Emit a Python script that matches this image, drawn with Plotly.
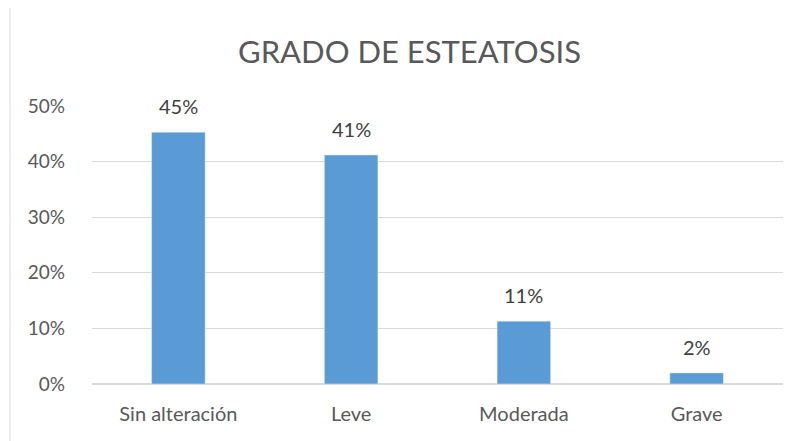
import plotly.graph_objects as go

categorias = ["Sin alteración", "Leve", "Moderada", "Grave"]
porcentajes = [0.453, 0.412, 0.113, 0.020]
etiquetas = ["45%", "41%", "11%", "2%"]

fig = go.Figure()

# Barras
fig.add_trace(go.Bar(
    x=categorias, y=porcentajes,
    marker=dict(color="#5B9BD5"),
    hoverinfo="x+y",
))

# Etiquetas de datos sobre cada barra
for cat, val, txt in zip(categorias, porcentajes, etiquetas):
    fig.add_annotation(
        x=cat, y=val, text=txt, showarrow=False,
        yanchor="middle", yshift=26,
        font=dict(size=20, color="#404040"),
    )

# Marco del grafico
fig.add_shape(
    type="rect", xref="paper", yref="paper",
    x0=-0.1187, x1=1.0203, y0=-0.4, y1=1.356,
    line=dict(color="#d9d9d9", width=1),
)

# la pagina tiene 8px de margen en body, se compensa en los margenes
fig.update_layout(
    title=dict(text="GRADO DE ESTEATOSIS", x=0.5, xanchor="center",
               y=0.900, yanchor="middle",
               font=dict(size=31, color="#595959", family="Lato")),
    width=803, height=441,
    margin=dict(l=84, r=28, t=98, b=65),
    bargap=0.69,
    showlegend=False,
    plot_bgcolor="white", paper_bgcolor="white",
    font=dict(family="Lato", size=19, color="#595959"),
    xaxis=dict(showline=False, ticks="", ticklabelstandoff=16,
               automargin=False, tickfont=dict(size=20)),
    yaxis=dict(range=[0, 0.5], dtick=0.1, tickformat=".0%",
               gridcolor="#d9d9d9", zeroline=True, zerolinecolor="#d9d9d9",
               ticklabelstandoff=26, automargin=False),
)

fig.write_html("out.html")
